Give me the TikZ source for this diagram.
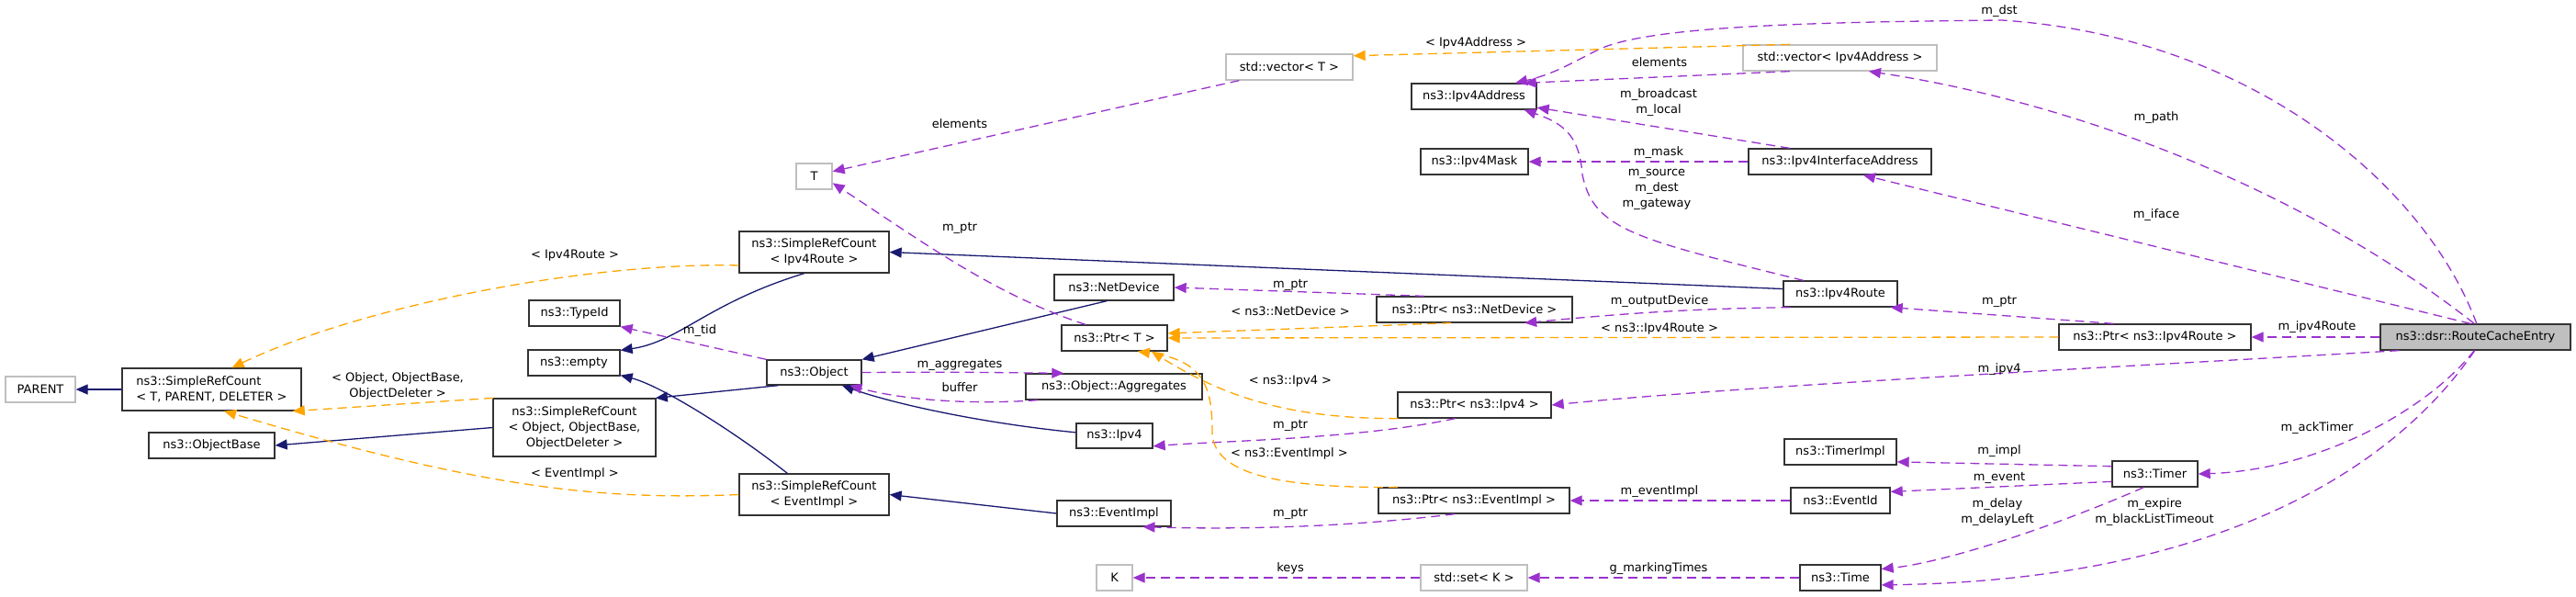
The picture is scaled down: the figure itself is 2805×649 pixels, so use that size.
\documentclass[tikz,border=0pt]{standalone}
\usepackage{fontspec}
\setmainfont{DejaVu Sans}
\usetikzlibrary{arrows.meta}
\definecolor{inh}{HTML}{191970}
\definecolor{use}{HTML}{9A32CD}
\definecolor{tpl}{HTML}{FFA500}
\definecolor{gbox}{HTML}{BFBFBF}
\begin{document}
\begin{tikzpicture}[x=1pt,y=-1pt,
  every node/.style={font=\fontsize{13}{17}\selectfont},
  box/.style={draw=black!80, fill=white, line width=1.3pt, inner sep=0pt, align=center},
  gbox/.style={box, draw=gbox},
  lbl/.style={inner sep=0pt, align=center},
  tip/.style={-{Triangle[length=13pt,width=11pt]}},
  inhe/.style={tip, draw=inh, line width=1.3pt, color=inh},
  usee/.style={tip, draw=use, color=use, line width=1.3pt, dash pattern=on 10pt off 6pt},
  tple/.style={tip, draw=tpl, color=tpl, line width=1.3pt, dash pattern=on 10pt off 6pt}]
\useasboundingbox (0,0) rectangle (2805,649);
% nodes
\node[gbox, minimum width=76pt, minimum height=28pt] (PARENT) at (44,424) {PARENT};
\node[box, minimum width=195pt, minimum height=46pt, align=left] (SRCTPD) at (230.5,424) {ns3::SimpleRefCount\\< T, PARENT, DELETER >};
\node[box, minimum width=137pt, minimum height=28pt] (ObjectBase) at (230.5,485) {ns3::ObjectBase};
\node[box, minimum width=99pt, minimum height=28pt] (TypeId) at (625.5,341) {ns3::TypeId};
\node[box, minimum width=100pt, minimum height=28pt] (empty) at (625,395) {ns3::empty};
\node[box, minimum width=177pt, minimum height=63pt] (SRCObj) at (625.5,465.5) {ns3::SimpleRefCount\\< Object, ObjectBase,\\ObjectDeleter >};
\node[box, minimum width=103pt, minimum height=27pt] (Object) at (886.5,405.5) {ns3::Object};
\node[box, minimum width=163pt, minimum height=45pt] (SRCRoute) at (886.5,274.5) {ns3::SimpleRefCount\\< Ipv4Route >};
\node[box, minimum width=163pt, minimum height=45pt] (SRCEvent) at (886.5,538.5) {ns3::SimpleRefCount\\< EventImpl >};
\node[gbox, minimum width=39pt, minimum height=28pt] (T) at (886.5,192) {T};
\node[gbox, minimum width=138pt, minimum height=28pt] (vecT) at (1404,73) {std::vector< T >};
\node[box, minimum width=130pt, minimum height=28pt] (NetDevice) at (1213,313) {ns3::NetDevice};
\node[box, minimum width=115pt, minimum height=28pt] (PtrT) at (1213.5,368) {ns3::Ptr< T >};
\node[box, minimum width=192pt, minimum height=28pt] (Aggr) at (1213,421) {ns3::Object::Aggregates};
\node[box, minimum width=83pt, minimum height=27pt] (Ipv4) at (1213.5,474.5) {ns3::Ipv4};
\node[box, minimum width=124pt, minimum height=28pt] (EventImpl) at (1213,559) {ns3::EventImpl};
\node[gbox, minimum width=39pt, minimum height=28pt] (K) at (1213.5,629) {K};
\node[box, minimum width=136pt, minimum height=28pt] (Addr) at (1605,105) {ns3::Ipv4Address};
\node[box, minimum width=117pt, minimum height=28pt] (Mask) at (1605.5,176) {ns3::Ipv4Mask};
\node[box, minimum width=213pt, minimum height=28pt] (PtrND) at (1605.5,337) {ns3::Ptr< ns3::NetDevice >};
\node[box, minimum width=167pt, minimum height=28pt] (PtrIpv4) at (1605.5,441) {ns3::Ptr< ns3::Ipv4 >};
\node[box, minimum width=208pt, minimum height=28pt] (PtrEI) at (1605,545) {ns3::Ptr< ns3::EventImpl >};
\node[gbox, minimum width=116pt, minimum height=28pt] (setK) at (1605,629) {std::set< K >};
\node[gbox, minimum width=211pt, minimum height=28pt] (vecAddr) at (2003.5,63) {std::vector< Ipv4Address >};
\node[box, minimum width=199pt, minimum height=28pt] (IfAddr) at (2003.5,176) {ns3::Ipv4InterfaceAddress};
\node[box, minimum width=124pt, minimum height=28pt] (Route) at (2004,320) {ns3::Ipv4Route};
\node[box, minimum width=122pt, minimum height=28pt] (TimerImpl) at (2004,492) {ns3::TimerImpl};
\node[box, minimum width=108pt, minimum height=28pt] (EventId) at (2004,545) {ns3::EventId};
\node[box, minimum width=88pt, minimum height=28pt] (Time) at (2004,629) {ns3::Time};
\node[box, minimum width=209pt, minimum height=28pt] (PtrRoute) at (2346.5,367) {ns3::Ptr< ns3::Ipv4Route >};
\node[box, minimum width=93pt, minimum height=28pt] (Timer) at (2346.5,516) {ns3::Timer};
\node[box, fill=gbox, minimum width=207pt, minimum height=28pt] (RCE) at (2695.5,367) {ns3::dsr::RouteCacheEntry};
% inheritance
\draw[inhe] (SRCTPD.west) -- (PARENT.east);
\draw[inhe] (SRCObj.west) -- (ObjectBase.east);
\draw[inhe] (SRCRoute.-115) .. controls (770,330) and (740,372) .. (empty.15);
\draw[inhe] (SRCEvent.north west) ++(53,0) .. controls (800,470) and (720,420) .. (empty.-15);
\draw[inhe] (Object.-160) -- (SRCObj.20);
\draw[inhe] (Route.175) -- (SRCRoute.east);
\draw[inhe] (NetDevice.-118) -- (Object.north east);
\draw[inhe] (Ipv4.175) .. controls (1080,462) and (980,442) .. (Object.-25);
\draw[inhe] (EventImpl.west) -- (SRCEvent.east);
% usage
\draw[usee] (Object.north west) -- (TypeId.south east);
\draw[usee] (Object.east) .. controls (1030,405) .. (Aggr.165);
\draw[usee] (Aggr.-170) .. controls (1040,442) and (970,432) .. (Object.-20);
\draw[usee] (vecT.-165) -- (T.15);
\draw[usee] (PtrT.155) .. controls (1080,320) and (1000,260) .. (T.-20);
\draw[usee] (PtrND.165) -- (NetDevice.east);
\draw[usee] (PtrIpv4.-145) .. controls (1480,478) and (1330,480) .. (Ipv4.-15);
\draw[usee] (PtrEI.-145) .. controls (1450,576) and (1330,576) .. (EventImpl.-25);
\draw[usee] (setK.west) -- (K.east);
\draw[usee] (Time.west) -- (setK.east);
\draw[usee] (vecAddr.-165) -- (Addr.15);
\draw[usee] (IfAddr.165) -- (Addr.-10);
\draw[usee] (IfAddr.west) -- (Mask.east);
\draw[usee] (Route.160) .. controls (1780,260) and (1735,250) .. (1723,190) .. controls (1720,150) and (1705,135) .. (Addr.-15);
\draw[usee] (Route.-165) .. controls (1850,336) and (1780,340) .. (PtrND.-15);
\draw[usee] (PtrRoute.162) -- (Route.-15);
\draw[usee] (RCE.west) -- (PtrRoute.east);
\draw[usee] (RCE.-170) .. controls (2300,400) and (1900,420) .. (PtrIpv4.east);
\draw[usee] (RCE.85) .. controls (2640,200) and (2450,40) .. (2180,22) .. controls (1950,24) and (1800,30) .. (1745,52) .. controls (1715,66) and (1695,80) .. (Addr.18);
\draw[usee] (RCE.95) .. controls (2500,200) and (2250,110) .. (vecAddr.-25);
\draw[usee] (RCE.110) -- (IfAddr.-30);
\draw[usee] (RCE.-95) .. controls (2640,450) and (2520,512) .. (Timer.east);
\draw[usee] (RCE.-93) .. controls (2600,520) and (2400,632) .. (Time.-10);
\draw[usee] (Timer.170) -- (TimerImpl.-10);
\draw[usee] (Timer.-170) -- (EventId.10);
\draw[usee] (Timer.-130) .. controls (2240,572) and (2120,612) .. (Time.12);
\draw[usee] (EventId.west) -- (PtrEI.east);
% template
\draw[tple] (SRCRoute.-170) .. controls (650,285) and (400,330) .. (SRCTPD.47);
\draw[tple] (SRCObj.160) -- (SRCTPD.-15);
\draw[tple] (SRCEvent.west) .. controls (650,545) and (520,530) .. (SRCTPD.-60);
\draw[tple] (vecAddr.165) -- (vecT.10);
\draw[tple] (PtrND.-150) -- (PtrT.5);
\draw[tple] (PtrRoute.west) -- (PtrT.east);
\draw[tple] (PtrIpv4.-170) .. controls (1400,456) and (1330,430) .. (PtrT.-20);
\draw[tple] (PtrEI.170) .. controls (1380,532) and (1320,512) .. (1320,470) .. controls (1320,420) and (1310,392) .. (PtrT.-30);
% labels
\node[lbl] (l1) at (626,278) {< Ipv4Route >};
\node[lbl] (l2) at (433,420) {< Object, ObjectBase,\\ObjectDeleter >};
\node[lbl] (l3) at (626,516) {< EventImpl >};
\node[lbl] (l4) at (762,360) {m\_tid};
\node[lbl] (l5) at (1045,135) {elements};
\node[lbl] (l6) at (1045,248) {m\_ptr};
\node[lbl] (l7) at (1607,47) {< Ipv4Address >};
\node[lbl] (l8) at (1807,68) {elements};
\node[lbl] (l9) at (1806,112) {m\_broadcast\\m\_local};
\node[lbl] (l10) at (1806,166) {m\_mask};
\node[lbl] (l11) at (1804,206) {m\_source\\m\_dest\\m\_gateway};
\node[lbl] (l12) at (2177,12) {m\_dst};
\node[lbl] (l13) at (2348,128) {m\_path};
\node[lbl] (l14) at (2348,234) {m\_iface};
\node[lbl] (l15) at (1405,310) {m\_ptr};
\node[lbl] (l16) at (1405,339) {< ns3::NetDevice >};
\node[lbl] (l17) at (1807,328) {m\_outputDevice};
\node[lbl] (l18) at (1807,358) {< ns3::Ipv4Route >};
\node[lbl] (l19) at (2177,328) {m\_ptr};
\node[lbl] (l20) at (2523,356) {m\_ipv4Route};
\node[lbl] (l21) at (2177,402) {m\_ipv4};
\node[lbl] (l22) at (1405,415) {< ns3::Ipv4 >};
\node[lbl] (l23) at (1405,463) {m\_ptr};
\node[lbl] (l24) at (1404,494) {< ns3::EventImpl >};
\node[lbl] (l25) at (1405,559) {m\_ptr};
\node[lbl] (l26) at (1045,397) {m\_aggregates};
\node[lbl] (l27) at (1045,422) {buffer};
\node[lbl] (l28) at (1807,535) {m\_eventImpl};
\node[lbl] (l29) at (1405,619) {keys};
\node[lbl] (l30) at (1806,619) {g\_markingTimes};
\node[lbl] (l31) at (2523,466) {m\_ackTimer};
\node[lbl] (l32) at (2177,491) {m\_impl};
\node[lbl] (l33) at (2177,520) {m\_event};
\node[lbl] (l34) at (2175,558) {m\_delay\\m\_delayLeft};
\node[lbl] (l35) at (2346,558) {m\_expire\\m\_blackListTimeout};
\end{tikzpicture}
\end{document}
